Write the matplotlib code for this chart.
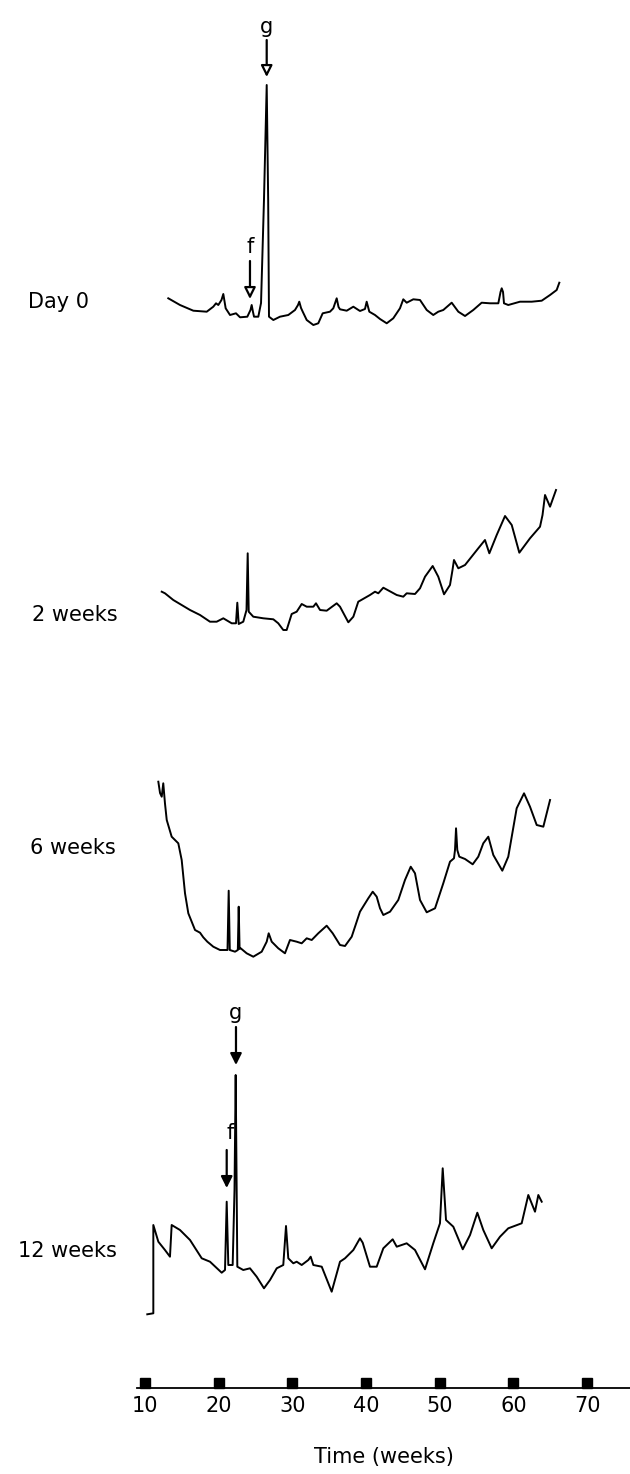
import numpy as np
import matplotlib.pyplot as plt

plt.rcParams['font.family'] = ['DejaVu Sans']

# retention time (weeks) and detector response for each sampling point
day0_t = [13.16, 14.75, 16.56, 18.38, 19.27, 19.64, 19.95, 20.38, 20.63, 20.95,
          21.54, 22.35, 22.90, 23.89, 24.32, 24.48, 24.66, 24.80, 25.38, 25.75,
          26.15, 26.52, 26.72, 26.83, 27.42, 28.32, 29.45, 30.36, 30.77, 30.94,
          31.18, 31.41, 31.95, 32.85, 33.52, 34.12, 35.11, 35.56, 36.02, 36.27,
          36.47, 37.38, 38.28, 39.18, 39.86, 40.09, 40.45, 41.22, 41.90, 42.81,
          43.70, 44.61, 45.06, 45.52, 46.42, 47.33, 48.24, 49.13, 49.81, 50.49,
          51.63, 52.53, 53.44, 54.56, 55.70, 56.83, 57.96, 58.26, 58.42, 58.60,
          58.73, 59.31, 60.90, 62.49, 63.85, 64.98, 65.88, 66.24]
day0_r = [41.7, 35.0, 29.3, 28.3, 33.3, 36.7, 35.0, 40.0, 46.0, 31.7,
          25.0, 26.7, 22.7, 23.3, 30.0, 35.0, 28.0, 23.3, 23.3, 37.0,
          140.0, 255.0, 140.0, 23.3, 20.0, 23.3, 25.0, 30.0, 35.0, 38.3,
          32.0, 28.3, 20.0, 15.0, 16.7, 26.7, 28.3, 31.7, 41.7, 33.0,
          30.7, 29.3, 33.3, 29.0, 31.0, 38.3, 28.3, 25.0, 21.0, 16.7,
          21.7, 31.7, 40.7, 37.3, 40.7, 40.0, 30.0, 25.0, 28.3, 30.0,
          37.3, 28.3, 24.0, 30.0, 37.3, 36.7, 36.7, 48.0, 51.7, 48.0,
          36.7, 35.0, 38.3, 38.3, 39.3, 45.0, 50.0, 57.3]

wk2_t = [12.27, 12.71, 13.84, 16.11, 17.47, 18.82, 19.73, 20.63, 21.77, 22.35,
         22.53, 22.72, 23.34, 23.78, 23.94, 24.08, 24.70, 26.06, 27.42, 28.09,
         28.77, 29.23, 29.91, 30.59, 31.27, 31.95, 32.85, 33.21, 33.76, 34.66,
         36.02, 36.47, 37.60, 38.28, 38.95, 40.54, 41.22, 41.67, 42.35, 44.17,
         45.06, 45.52, 46.65, 47.33, 48.01, 49.05, 49.81, 50.59, 51.40, 51.74,
         51.94, 52.53, 53.44, 55.24, 56.15, 56.74, 57.74, 58.87, 59.78, 60.81,
         62.26, 63.62, 63.96, 64.30, 64.98, 65.79]
wk2_r = [68.3, 66.7, 60.0, 50.0, 45.0, 38.3, 38.3, 41.7, 36.7, 36.7,
         57.3, 36.0, 38.3, 50.0, 106.7, 48.3, 43.3, 41.7, 40.7, 36.7,
         30.0, 30.0, 46.0, 48.3, 56.0, 53.3, 53.3, 56.7, 50.0, 49.3,
         56.7, 53.3, 37.7, 43.3, 58.3, 65.0, 68.3, 66.7, 72.3, 65.0,
         63.3, 66.7, 66.0, 71.7, 83.3, 94.0, 83.3, 65.7, 75.0, 90.0,
         100.0, 91.7, 95.0, 111.7, 120.0, 106.7, 125.0, 144.0, 135.0, 107.3,
         121.7, 133.3, 145.0, 165.0, 153.3, 170.0]

wk6_t = [11.81, 12.04, 12.27, 12.48, 12.71, 12.95, 13.62, 14.52, 14.98, 15.43,
         15.88, 16.79, 17.47, 17.91, 18.46, 19.27, 20.18, 21.20, 21.36, 21.51,
         22.22, 22.60, 22.72, 22.84, 22.99, 23.80, 24.70, 25.84, 26.52, 26.79,
         27.20, 28.09, 29.00, 29.68, 30.59, 31.27, 31.95, 32.63, 33.52, 34.66,
         35.48, 36.47, 37.15, 38.06, 39.18, 40.31, 40.91, 41.45, 41.90, 42.35,
         43.26, 44.38, 45.29, 46.07, 46.65, 47.33, 48.24, 49.37, 50.49, 51.40,
         51.94, 52.08, 52.22, 52.39, 52.66, 53.44, 54.48, 55.24, 55.92, 56.60,
         57.28, 58.50, 59.31, 60.45, 61.45, 62.26, 63.17, 64.07, 64.98]
wk6_r = [198.3, 187.0, 183.3, 196.7, 176.7, 160.0, 143.3, 136.7, 120.0, 86.7,
         66.7, 50.0, 47.3, 42.7, 38.3, 33.3, 30.0, 30.0, 89.3, 30.0,
         28.3, 30.0, 73.3, 31.0, 31.7, 26.7, 23.3, 28.3, 38.3, 46.7,
         38.3, 31.7, 26.7, 40.0, 38.3, 36.7, 41.7, 40.0, 46.7, 54.3,
         46.7, 35.0, 34.0, 43.3, 68.3, 81.7, 88.3, 83.3, 71.7, 65.0,
         68.3, 80.0, 100.0, 113.3, 106.7, 80.0, 67.7, 71.7, 96.7, 118.3,
         121.7, 130.0, 151.7, 130.0, 123.3, 121.0, 115.7, 123.3, 136.7, 143.3,
         125.0, 109.3, 123.3, 171.7, 186.7, 173.3, 155.0, 153.3, 180.0]

wk12_t = [10.31, 11.13, 11.13, 11.81, 12.71, 13.39, 13.62, 14.75, 16.11, 17.70,
          18.82, 20.41, 20.86, 21.09, 21.31, 21.90, 22.15, 22.31, 22.42, 22.53,
          23.34, 24.25, 25.16, 26.15, 26.97, 27.88, 28.77, 29.14, 29.45, 30.13,
          30.59, 31.27, 32.17, 32.49, 32.85, 33.99, 35.34, 36.47, 37.15, 38.28,
          39.18, 39.55, 40.54, 41.45, 42.35, 43.62, 44.17, 45.52, 46.65, 48.01,
          49.13, 50.04, 50.41, 50.86, 51.85, 53.13, 54.12, 55.11, 55.92, 57.06,
          58.19, 59.31, 61.13, 62.03, 62.94, 63.39, 63.85]
wk12_r = [25.7, 26.7, 115.0, 98.3, 90.0, 83.3, 115.0, 110.0, 100.0, 81.7,
          78.3, 67.3, 70.0, 138.3, 75.0, 75.0, 150.0, 265.0, 170.0, 73.3,
          70.0, 71.7, 63.3, 51.7, 60.0, 71.7, 75.0, 114.0, 81.7, 76.7,
          78.3, 75.0, 80.0, 83.3, 75.0, 73.3, 48.3, 78.3, 81.7, 90.0,
          101.7, 97.3, 73.3, 73.3, 91.7, 100.7, 93.3, 96.7, 90.0, 70.7,
          96.7, 116.7, 171.7, 120.0, 113.3, 90.7, 105.0, 127.3, 110.0, 91.7,
          103.3, 111.7, 116.7, 145.0, 128.3, 145.0, 138.3]

panel_names = ['Day 0', '2 weeks', '6 weeks', '12 weeks']
time_ticks = [10, 20, 30, 40, 50, 60, 70]

W, H = 630, 1474
PX_PER_WEEK = 7.367
X10 = 145  # pixel column of week 10

fig = plt.figure(figsize=(W / 100, H / 100), dpi=100)


def panel(top, bottom, left=0, right=W):
    ax = fig.add_axes([left / W, 1 - bottom / H, (right - left) / W, (bottom - top) / H])
    ax.set_xlim(10 + (left - X10) / PX_PER_WEEK, 10 + (right - X10) / PX_PER_WEEK)
    ax.set_ylim(0, bottom - top)
    ax.axis('off')
    return ax


def peak_arrow(ax, x, tip, tail, label, label_y, filled, label_x=None):
    ax.annotate('', xy=(x, tip), xytext=(x, tail),
                arrowprops=dict(arrowstyle='-|>', lw=1.6, color='black',
                                fc='black' if filled else 'white',
                                mutation_scale=17, shrinkA=0, shrinkB=0))
    ax.text(label_x if label_x is not None else x, label_y, label,
            ha='center', va='center', fontsize=15)


traces = [(day0_t, day0_r, 0, 340, -5.88, 38),
          (wk2_t, wk2_r, 460, 660, -5.4, 45),
          (wk6_t, wk6_r, 740, 980, -5.6, 132),
          (wk12_t, wk12_r, 1000, 1340, -7.2, 89)]

axes = []
for (t, r, top, bottom, lx, ly), name in zip(traces, panel_names):
    ax = panel(top, bottom)
    ax.plot(t, r, color='black', lw=1.4, solid_joinstyle='round')
    ax.text(lx, ly, name, ha='left', va='center', fontsize=15)
    axes.append(ax)

# peak markers f and g
peak_arrow(axes[0], 26.52, 263, 300, 'g', 313, filled=False)
peak_arrow(axes[0], 24.25, 41, 79, 'f', 93, filled=False)
peak_arrow(axes[3], 22.35, 275, 313, 'g', 327, filled=True)
peak_arrow(axes[3], 21.09, 152, 190, 'f', 207, filled=True, label_x=21.54)

# time axis
ax_t = fig.add_axes([137 / W, 1 - 1388 / H, (W - 137) / W, 20 / H])
ax_t.set_xlim(10 + (137 - X10) / PX_PER_WEEK, 10 + (W - X10) / PX_PER_WEEK)
ax_t.set_ylim(0, 1)
for side in ['top', 'right', 'left']:
    ax_t.spines[side].set_visible(False)
ax_t.spines['bottom'].set_linewidth(1.3)
ax_t.set_yticks([])
ax_t.set_xticks(time_ticks)
ax_t.set_xticklabels([str(v) for v in time_ticks])
ax_t.tick_params(axis='x', length=0, pad=6, labelsize=15)
ax_t.plot(time_ticks, [0.23] * len(time_ticks), 's', ms=7, color='black', clip_on=False)
ax_t.set_xlabel('Time (weeks)', fontsize=15, labelpad=22)
ax_t.patch.set_alpha(0)

fig.savefig('out.png', dpi=100, facecolor='white')
